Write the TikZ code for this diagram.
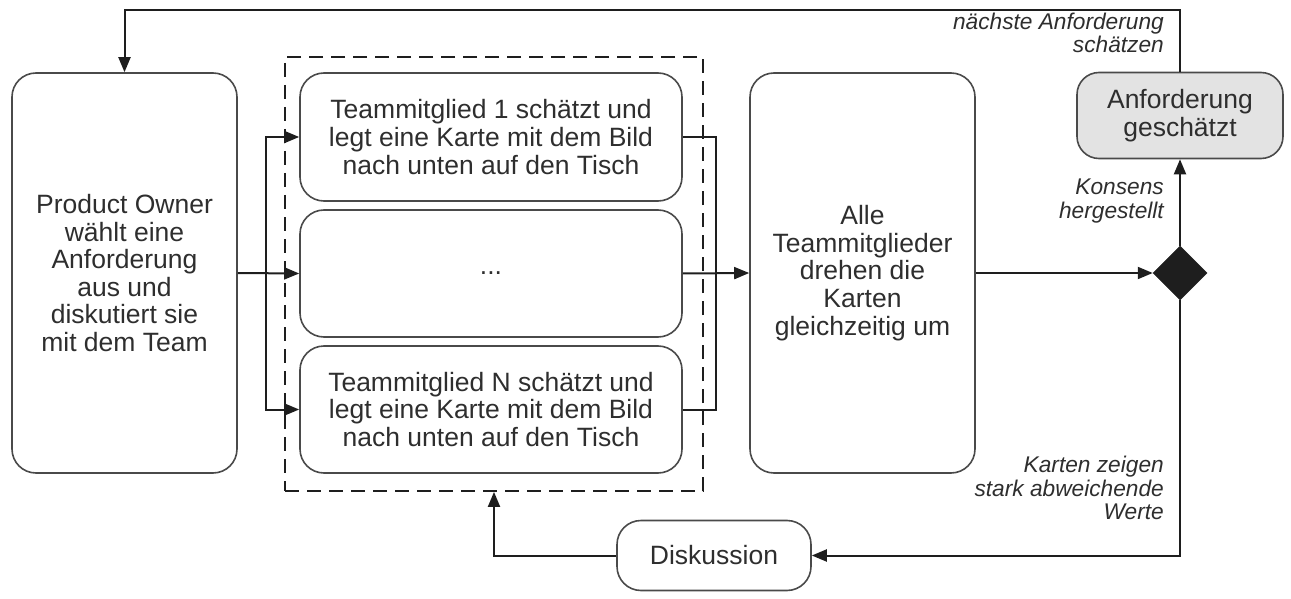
\documentclass[tikz,border=0pt]{standalone}
\usepackage{fontspec}
\setmainfont{Liberation Sans}
\usetikzlibrary{arrows.meta,shapes.geometric}
\definecolor{boxline}{HTML}{4A4A4A}
\definecolor{txt}{HTML}{2E2E2E}
\definecolor{lineclr}{HTML}{1E1E1E}
\definecolor{grayfill}{HTML}{E3E3E3}
\tikzset{
  proc/.style={draw=boxline, line width=1.6pt, rounded corners=24pt, align=center,
    text=txt, inner sep=0pt, font=\fontsize{26.5}{27.6}\selectfont},
  lbl/.style={anchor=east, align=right, text=txt, inner sep=0pt,
    font=\fontsize{22.7}{23.4}\selectfont\itshape},
  conn/.style={draw=lineclr, line width=2pt},
  arr/.style={conn, -{Triangle[length=15pt,width=12pt]}},
  dashframe/.style={draw=lineclr, line width=1.8pt, dash pattern=on 14pt off 8pt},
}
\begin{document}
\begin{tikzpicture}[x=1pt,y=-1pt]
\useasboundingbox (0,0) rectangle (1291,599);
% dashed group frame
\node[dashframe, minimum width=418pt, minimum height=434pt, inner sep=0pt] (grp) at (494,274) {};
% process boxes
\node[proc, minimum width=225pt, minimum height=400pt] (po) at (124.5,273)
  {Product Owner\\wählt eine\\Anforderung\\aus und\\diskutiert sie\\mit dem Team};
\node[proc, minimum width=382pt, minimum height=128pt] (b1) at (491,137)
  {Teammitglied 1 schätzt und\\legt eine Karte mit dem Bild\\nach unten auf den Tisch};
\node[proc, minimum width=382pt, minimum height=127pt] (bm) at (491,273.5) {...};
\node[proc, minimum width=382pt, minimum height=127pt] (bn) at (491,409.5)
  {Teammitglied N schätzt und\\legt eine Karte mit dem Bild\\nach unten auf den Tisch};
\node[proc, minimum width=225pt, minimum height=400pt] (alle) at (862.5,273)
  {Alle\\Teammitglieder\\drehen die\\Karten\\gleichzeitig um};
\node[proc, fill=grayfill, rounded corners=22pt, minimum width=206pt, minimum height=86pt] (anf) at (1180,115.5)
  {Anforderung\\geschätzt};
\node[diamond, fill=lineclr, draw=lineclr, line width=0.5pt, inner sep=0pt, minimum width=54pt, minimum height=54pt] (dia) at (1180,273) {};
\node[proc, minimum width=194pt, minimum height=70pt] (disk) at (714,555.5) {Diskussion};
% labels
\node[lbl] (l1) at (1164,33) {nächste Anforderung\\schätzen};
\node[lbl] (l2) at (1164,201) {Konsens\\hergestellt};
\node[lbl] (l3) at (1164,488) {Karten zeigen\\stark abweichende\\Werte};
% helper coordinates
\coordinate (forkL) at (266,273);
\coordinate (forkR) at (716,273);
\coordinate (topR) at (1180,10);
% connectors
\draw[arr] (po.east) -- (bm.west);
\draw[arr] (forkL) |- (b1.west);
\draw[arr] (forkL) |- (bn.west);
\draw[conn] (b1.east) -| (forkR);
\draw[conn] (bn.east) -| (forkR);
\draw[arr] (bm.east) -- (alle.west);
\draw[arr] (alle.east) -- (dia.west);
\draw[arr] (dia.north) -- (anf.south);
\draw[arr] (dia.south) |- (disk.east);
\draw[arr] (disk.west) -| (grp.south);
\draw[arr] (anf.north) -- (topR) -| (po.north);
\end{tikzpicture}
\end{document}
